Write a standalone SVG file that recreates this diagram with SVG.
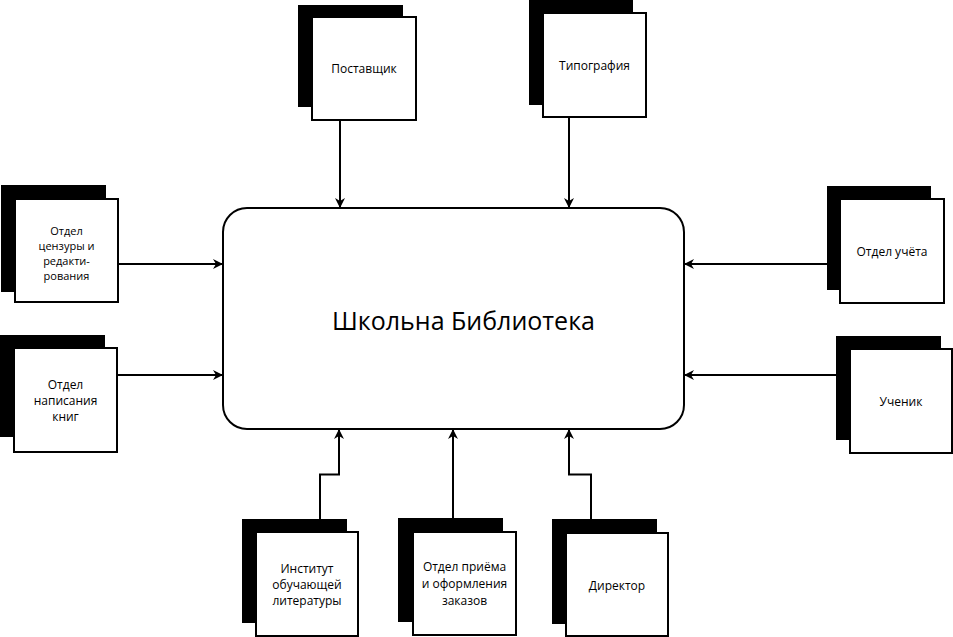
<svg xmlns="http://www.w3.org/2000/svg" width="953" height="637" viewBox="0 0 953 637">
<defs>
<style>
.sh{fill:#000}
.bx{fill:#fff;stroke:#000;stroke-width:2}
.t{font-family:"Open Sans","DejaVu Sans",sans-serif;font-size:12px;fill:#000;text-anchor:middle}
.t4{font-size:11px}
.title{font-family:"Open Sans","DejaVu Sans",sans-serif;font-size:25px;fill:#000;text-anchor:middle}
.c{fill:none;stroke:#000;stroke-width:2;marker-end:url(#ah)}
</style>
<marker id="ah" markerWidth="10" markerHeight="10" viewBox="0 0 10 10" refX="9" refY="5" orient="auto" markerUnits="userSpaceOnUse">
<path d="M0,0 L10,5 L0,10 L3,5 Z" fill="#000"/>
</marker>
</defs>
<rect width="953" height="637" fill="#fff"/>
<g id="connectors">
<path class="c" d="M340,120 V207"/>
<path class="c" d="M569,117 V207"/>
<path class="c" d="M118,264 H222"/>
<path class="c" d="M117,375 H222"/>
<path class="c" d="M827,264 H685"/>
<path class="c" d="M836,375 H685"/>
<path class="c" d="M320,519 V474.5 H339 V430"/>
<path class="c" d="M453,518 V430"/>
<path class="c" d="M591,519 V474.5 H569 V430"/>
</g>
<g id="library">
<rect x="223" y="208" width="461" height="221" rx="24" ry="24" fill="#fff" stroke="#000" stroke-width="2"/>
<text class="title" x="463.5" y="330">Школьна Библиотека</text>
</g>
<g id="supplier">
<rect class="sh" x="298" y="5" width="105" height="102"/>
<rect class="bx" x="312" y="17" width="104" height="103"/>
<text class="t" x="364" y="73">Поставщик</text>
</g>
<g id="printing">
<rect class="sh" x="529" y="0" width="104" height="105"/>
<rect class="bx" x="543" y="13" width="103" height="104"/>
<text class="t" x="594.5" y="69.5">Типография</text>
</g>
<g id="censorship">
<rect class="sh" x="1" y="185" width="105" height="107"/>
<rect class="bx" x="15" y="199" width="103" height="103"/>
<text class="t t4" x="66.5" y="235">Отдел</text>
<text class="t t4" x="66.5" y="250">цензуры и</text>
<text class="t t4" x="66.5" y="265">редакти-</text>
<text class="t t4" x="66.5" y="280">рования</text>
</g>
<g id="writing">
<rect class="sh" x="0" y="335" width="105" height="102"/>
<rect class="bx" x="14" y="348" width="103" height="104"/>
<text class="t" x="65.5" y="389">Отдел</text>
<text class="t" x="65.5" y="405">написания</text>
<text class="t" x="65.5" y="421">книг</text>
</g>
<g id="accounting">
<rect class="sh" x="827" y="186" width="104" height="104"/>
<rect class="bx" x="840" y="199" width="104" height="104"/>
<text class="t" x="892" y="256">Отдел учёта</text>
</g>
<g id="student">
<rect class="sh" x="836" y="336" width="105" height="104"/>
<rect class="bx" x="850" y="349" width="102" height="104"/>
<text class="t" x="901" y="406">Ученик</text>
</g>
<g id="institute">
<rect class="sh" x="242" y="519" width="105" height="104"/>
<rect class="bx" x="256" y="532" width="102" height="104"/>
<text class="t" x="307" y="573">Институт</text>
<text class="t" x="307" y="589">обучающей</text>
<text class="t" x="307" y="605">литературы</text>
</g>
<g id="orders">
<rect class="sh" x="398" y="518" width="105" height="104"/>
<rect class="bx" x="413" y="532" width="103" height="103"/>
<text class="t" x="464.5" y="571">Отдел приёма</text>
<text class="t" x="464.5" y="588">и оформления</text>
<text class="t" x="464.5" y="605">заказов</text>
</g>
<g id="director">
<rect class="sh" x="552" y="519" width="105" height="105"/>
<rect class="bx" x="566" y="533" width="102" height="103"/>
<text class="t" x="617" y="590">Директор</text>
</g>
</svg>
